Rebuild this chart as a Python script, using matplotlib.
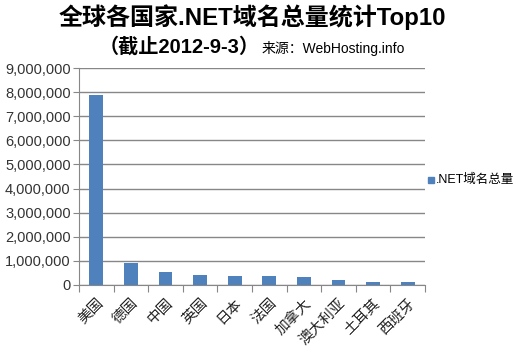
import matplotlib
matplotlib.use("Agg")
import matplotlib.pyplot as plt
from matplotlib.ticker import FuncFormatter, MultipleLocator
from matplotlib.patches import Rectangle

categories = ["美国", "德国", "中国", "英国", "日本", "法国", "加拿大", "澳大利亚", "土耳其", "西班牙"]
values = [7870000, 920000, 540000, 430000, 375000, 375000, 330000, 210000, 125000, 125000]
series_name = ".NET域名总量"
title = "全球各国家.NET域名总量统计Top10"
subtitle = "（截止2012-9-3）"
source = "来源：WebHosting.info"

plt.rcParams['font.family'] = ['Liberation Sans', 'Noto Sans CJK SC', 'DejaVu Sans']

fig = plt.figure(figsize=(5.18, 3.54), dpi=100)
ax = fig.add_axes([79/518, 1-285/354, (425-79)/518, (285-68)/354])

bar_color = "#4F81BD"
grid_color = "#878787"
x = list(range(len(categories)))
ax.bar(x, values, width=0.4, color=bar_color, zorder=3)
ax.set_xlim(-0.5, len(categories) - 0.5)
ax.set_ylim(0, 9000000)
ax.yaxis.set_major_locator(MultipleLocator(1000000))
ax.yaxis.set_major_formatter(FuncFormatter(lambda v, p: f"{int(v):,}"))
ax.grid(axis='y', color=grid_color, linewidth=1.0, zorder=0)
for s in ['top', 'right']:
    ax.spines[s].set_visible(False)
ax.spines['left'].set_color(grid_color)
ax.spines['bottom'].set_color(grid_color)
ax.tick_params(axis='y', length=4, color=grid_color, labelsize=10.5, labelcolor="#333333", pad=2)
ax.set_xticks([i + 0.5 for i in range(-1, len(categories))], minor=False)
ax.set_xticklabels([])
ax.set_xticks(x, minor=True)
ax.set_xticklabels(categories, minor=True, rotation=45, ha='right', rotation_mode='anchor',
                   fontsize=10.5, family=['Noto Sans CJK SC'], color="#222222")
ax.tick_params(axis='x', which='major', length=5, color=grid_color)
ax.tick_params(axis='x', which='minor', length=0, pad=8)

fig.text(252/518, 1-17/354, title, ha='center', va='center', fontsize=17.3, fontweight='bold',
         family=['Liberation Sans', 'Noto Sans CJK SC'])
fig.text(99/518, 1-47/354, subtitle, ha='left', va='center', fontsize=14.5, fontweight='bold',
         family=['Liberation Sans', 'Noto Sans CJK SC'])
fig.text(262/518, 1-48/354, source, ha='left', va='center', fontsize=10,
         family=['Liberation Sans', 'Noto Sans CJK SC'])

# legend
fig.patches.append(Rectangle((428/518, 1-183/354), 6/518, 6/354, transform=fig.transFigure,
                             color=bar_color, figure=fig))
fig.text(436/518, 1-180/354, series_name, ha='left', va='center', fontsize=9,
         family=['Liberation Sans', 'Noto Sans CJK SC'])

fig.savefig("out.png", dpi=100)
